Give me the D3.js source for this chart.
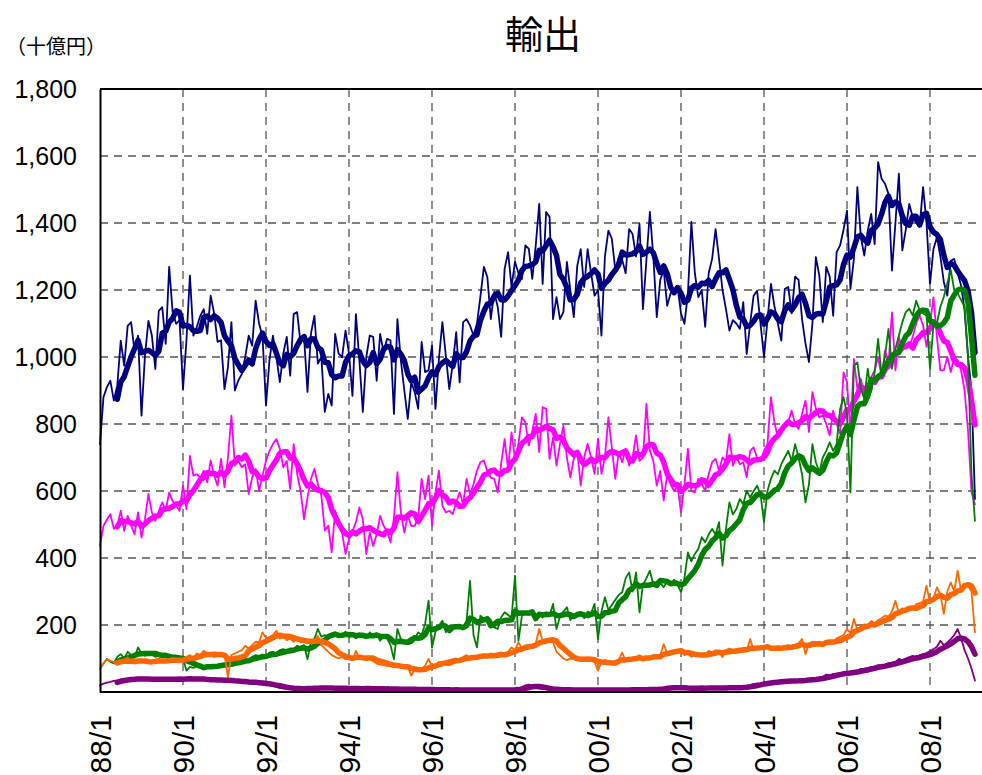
<!DOCTYPE html>
<html>
<head>
<meta charset="utf-8">
<script src="https://cdn.jsdelivr.net/npm/d3@7"></script>
<style>
  body { margin: 0; background: #fff; }
  .canvas svg { display: block; }
</style>
</head>
<body>
<div class="canvas"></div>
<script>
// monthly values, 88/1 .. 09/2 (十億円)
const xLabels = ['88/1', '90/1', '92/1', '94/1', '96/1', '98/1', '00/1', '02/1', '04/1', '06/1', '08/1'];
const yTicks = [200, 400, 600, 800, 1000, 1200, 1400, 1600, 1800];

const navy = [
    740, 880, 910, 929, 870, 915, 1049, 974, 1093, 1104, 1015, 1064,
    825, 1004, 1108, 1064, 964, 1138, 1149, 1039, 1269, 1134, 1099, 1110,
    904, 1050, 1243, 1064, 1090, 1123, 1143, 1069, 1183, 1130, 1045, 1050,
    904, 970, 1104, 900, 930, 949, 1000, 1064, 1034, 1168, 1100, 1060,
    855, 990, 1064, 1000, 925, 1010, 1060, 944, 1128, 1134, 1040, 1060,
    896, 1070, 1123, 980, 1000, 836, 890, 855, 1069, 1010, 1000, 1079,
    1010, 884, 1128, 990, 836, 1000, 1064, 1060, 929, 1069, 1015, 1054,
    1050, 830, 1113, 989, 900, 815, 925, 895, 845, 1045, 955, 960,
    1034, 845, 994, 1104, 1004, 904, 979, 1074, 924, 1104, 1113, 1094,
    1064, 1100, 1180, 1269, 1239, 1113, 1194, 1150, 1060, 1263, 1313, 1209,
    1284, 1250, 1233, 1333, 1323, 1233, 1333, 1457, 1218, 1433, 1418, 1113,
    1179, 1113, 1134, 1284, 1200, 1119, 1272, 1322, 1209, 1322, 1250, 1183,
    1200, 1064, 1300, 1377, 1353, 1260, 1298, 1290, 1250, 1382, 1367, 1300,
    1397, 1143, 1290, 1433, 1300, 1119, 1230, 1260, 1153, 1190, 1200, 1210,
    1130, 1099, 1190, 1403, 1250, 1179, 1200, 1090, 1250, 1293, 1382, 1293,
    1200, 1143, 1079, 1110, 1100, 1084, 1164, 1009, 1100, 1183, 1198, 1099,
    1000, 1110, 1218, 1153, 1100, 1049, 1203, 1209, 1130, 1240, 1230, 1113,
    1040, 985, 1100, 1298, 1243, 1104, 1269, 1240, 1123, 1313, 1333, 1380,
    1437, 1203, 1293, 1507, 1358, 1303, 1377, 1427, 1337, 1582, 1532, 1517,
    1487, 1258, 1400, 1547, 1318, 1380, 1457, 1418, 1400, 1390, 1507, 1400,
    1218, 1322, 1358, 1300, 1224, 1183, 1287, 1293, 1250, 1213, 1140, 1000,
    900, 576
];

const magenta = [
    437, 496, 515, 531, 487, 496, 541, 481, 526, 496, 471, 536,
    461, 516, 591, 536, 511, 540, 566, 541, 596, 570, 556, 541,
    616, 546, 705, 646, 650, 640, 661, 626, 691, 646, 616, 696,
    611, 700, 825, 676, 690, 671, 680, 591, 640, 666, 601, 646,
    690, 720, 740, 755, 726, 671, 690, 606, 740, 651, 600, 516,
    580, 636, 666, 620, 586, 482, 496, 417, 541, 500, 476, 412,
    457, 480, 507, 551, 516, 412, 476, 436, 470, 526, 496, 480,
    447, 520, 656, 536, 476, 526, 496, 496, 520, 636, 576, 646,
    496, 596, 661, 556, 536, 541, 531, 566, 596, 560, 636, 591,
    620, 661, 686, 691, 660, 640, 636, 596, 681, 755, 666, 775,
    696, 741, 820, 805, 736, 780, 830, 716, 850, 845, 696, 760,
    676, 740, 795, 700, 641, 696, 720, 616, 700, 741, 700, 651,
    756, 651, 700, 820, 730, 636, 716, 686, 726, 676, 700, 766,
    690, 700, 860, 720, 690, 616, 660, 571, 651, 620, 600, 616,
    536, 620, 726, 600, 596, 636, 621, 601, 650, 686, 696, 661,
    700, 690, 770, 676, 700, 680, 686, 641, 720, 730, 700, 690,
    720, 740, 880, 806, 760, 785, 800, 806, 840, 800, 785, 830,
    870, 776, 895, 846, 820, 826, 800, 766, 840, 800, 771, 954,
    925, 771, 994, 905, 935, 885, 920, 940, 960, 1000, 940, 1020,
    980, 1133, 960, 1060, 1020, 1030, 1030, 1060, 1100, 1124, 1094, 1030,
    1100, 1178, 1060, 960, 960, 1000, 955, 1000, 990, 959, 900, 780,
    596, 560
];

const green = [
    69, 85, 98, 90, 85, 105, 113, 100, 120, 110, 105, 133,
    115, 108, 118, 112, 105, 110, 103, 108, 100, 95, 105, 98,
    100, 64, 75, 72, 78, 75, 72, 80, 75, 78, 82, 85,
    84, 88, 80, 95, 92, 98, 100, 95, 105, 110, 108, 112,
    105, 118, 120, 115, 125, 128, 122, 130, 128, 138, 135, 140,
    98, 150, 158, 188, 165, 170, 160, 175, 178, 165, 170, 180,
    163, 170, 160, 175, 168, 160, 178, 165, 175, 153, 165, 160,
    140, 98, 188, 158, 150, 155, 163, 160, 178, 170, 203, 273,
    133, 180, 198, 213, 178, 198, 190, 193, 200, 195, 213, 332,
    170, 133, 228, 218, 225, 215, 193, 188, 223, 238, 230, 220,
    347, 153, 228, 235, 230, 243, 225, 230, 222, 238, 230, 263,
    188, 225, 240, 253, 215, 230, 225, 238, 220, 240, 235, 263,
    158, 240, 283, 245, 260, 275, 290, 298, 340, 357, 300, 357,
    238, 320, 340, 362, 320, 330, 325, 313, 330, 320, 335, 320,
    298, 340, 417, 390, 412, 427, 462, 447, 470, 487, 470, 507,
    377, 487, 566, 530, 546, 576, 560, 601, 580, 600, 616, 590,
    506, 601, 636, 661, 650, 680, 700, 720, 690, 740, 700, 650,
    566, 620, 740, 686, 656, 700, 720, 745, 720, 740, 845, 880,
    830, 596, 974, 984, 905, 875, 965, 895, 955, 1054, 945, 1004,
    1084, 965, 1024, 1064, 1104, 1134, 1144, 1124, 1168, 1140, 1130, 1124,
    965, 1094, 1100, 1150, 1180, 1220, 1260, 1200, 1190, 1170, 1150, 1000,
    650, 511
];

const orange = [
    69, 85, 98, 93, 90, 85, 88, 95, 103, 90, 85, 93,
    90, 95, 88, 88, 95, 100, 90, 95, 92, 100, 93, 95,
    98, 105, 110, 100, 115, 110, 123, 115, 110, 105, 108, 110,
    112, 44, 110, 115, 120, 125, 138, 130, 140, 150, 148, 178,
    160, 165, 170, 183, 160, 165, 155, 160, 150, 160, 148, 150,
    145, 155, 150, 168, 140, 130, 120, 110, 105, 100, 105, 98,
    100, 95, 123, 100, 98, 95, 100, 92, 85, 82, 80, 78,
    78, 76, 80, 72, 70, 75, 49, 68, 65, 70, 78, 99,
    75, 80, 90, 85, 92, 95, 98, 100, 95, 105, 110, 100,
    108, 105, 110, 112, 108, 110, 105, 115, 118, 112, 120, 133,
    125, 148, 130, 140, 135, 140, 145, 188, 150, 155, 150, 148,
    120, 110, 100, 95, 100, 98, 95, 100, 98, 100, 95, 90,
    64, 90, 95, 92, 88, 90, 95, 118, 92, 100, 95, 100,
    110, 98, 105, 102, 110, 105, 110, 143, 115, 120, 125, 118,
    120, 110, 115, 105, 110, 108, 115, 110, 123, 118, 125, 120,
    104, 125, 130, 125, 128, 130, 120, 123, 158, 125, 130, 135,
    128, 135, 130, 125, 135, 130, 138, 140, 135, 140, 145, 158,
    113, 145, 150, 148, 150, 145, 150, 153, 148, 160, 165, 170,
    188, 175, 218, 185, 195, 202, 200, 212, 205, 215, 220, 228,
    225, 240, 272, 235, 250, 245, 255, 250, 262, 265, 270, 317,
    265, 280, 312, 290, 233, 300, 327, 300, 362, 302, 315, 317,
    300, 178
];

const purple = [
    20, 25, 28, 30, 33, 35, 38, 40, 38, 40, 36, 40,
    38, 40, 37, 39, 36, 38, 40, 37, 38, 39, 37, 40,
    38, 40, 42, 38, 36, 38, 37, 35, 36, 37, 34, 36,
    33, 35, 32, 30, 31, 29, 30, 28, 27, 28, 25, 24,
    22, 20, 18, 15, 12, 11, 10, 10, 11, 10, 9, 10,
    12, 11, 13, 12, 12, 11, 13, 11, 10, 12, 11, 10,
    10, 11, 10, 9, 10, 11, 10, 9, 10, 10, 9, 8,
    9, 8, 8, 9, 8, 7, 8, 8, 7, 8, 7, 7,
    7, 6, 7, 6, 7, 6, 6, 7, 6, 6, 7, 6,
    6, 7, 6, 6, 6, 7, 6, 6, 6, 7, 6, 6,
    8, 10, 15, 20, 22, 18, 12, 10, 9, 8, 7, 8,
    7, 6, 6, 7, 6, 6, 7, 6, 6, 6, 7, 6,
    6, 6, 7, 6, 6, 6, 7, 6, 7, 6, 7, 6,
    7, 8, 7, 8, 8, 9, 10, 12, 16, 15, 12, 10,
    10, 12, 11, 12, 11, 12, 12, 11, 12, 12, 13, 12,
    12, 12, 13, 13, 14, 14, 15, 17, 20, 24, 25, 26,
    29, 28, 30, 31, 32, 33, 33, 32, 34, 35, 33, 36,
    38, 39, 40, 38, 42, 45, 52, 50, 54, 55, 56, 58,
    59, 58, 62, 64, 69, 70, 72, 74, 76, 80, 79, 82,
    86, 88, 90, 99, 95, 100, 104, 108, 102, 110, 113, 116,
    122, 128, 135, 153, 140, 148, 158, 170, 188, 160, 125, 100,
    70, 34
];

const series = [
    { name: 'navy', values: navy, colour: '#000080' },
    { name: 'magenta', values: magenta, colour: '#ff00ff' },
    { name: 'green', values: green, colour: '#008000' },
    { name: 'orange', values: orange, colour: '#ff6600' },
    { name: 'purple', values: purple, colour: '#800080' }
];

const dims = { width: 982, height: 775 };
const plot = { left: 100, top: 89, bottom: 692, right: 982 };

const svg = d3.select('.canvas')
    .append('svg')
    .attr('width', dims.width)
    .attr('height', dims.height)
;

// month index -> x, 2 years = 24 months per label
const x = d3.scaleLinear().domain([0, 240]).range([plot.left, 930]);
const y = d3.scaleLinear().domain([0, 1800]).range([plot.bottom, plot.top]);

// thick line: trailing 6-month average of the monthly values
const movingAvg = (vals, n) => vals.map((v, i) =>
    i < n - 1 ? null : d3.mean(vals.slice(i - n + 1, i + 1)));

// grid
const grid = svg.append('g').attr('stroke', '#555').attr('stroke-width', 1.3).attr('stroke-dasharray', '8,6');
grid.selectAll('.hgrid')
    .data(yTicks.filter(d => d < 1800))
    .enter().append('line')
        .attr('x1', plot.left).attr('x2', plot.right)
        .attr('y1', d => y(d)).attr('y2', d => y(d));
grid.selectAll('.vgrid')
    .data(xLabels.slice(1).map((d, i) => (i + 1) * 24))
    .enter().append('line')
        .attr('x1', d => x(d)).attr('x2', d => x(d))
        .attr('y1', plot.top).attr('y2', plot.bottom);

// lines
const line = d3.line()
    .defined(d => d != null)
    .x((d, i) => x(i))
    .y(d => y(d))
;

const lines = svg.append('g').attr('fill', 'none').attr('stroke-linejoin', 'round').attr('stroke-linecap', 'round');
series.forEach(s => {
    lines.append('path')
        .attr('d', line(s.values))
        .attr('stroke', s.colour)
        .attr('stroke-width', 1.8);
    lines.append('path')
        .attr('d', line(movingAvg(s.values, 6)))
        .attr('stroke', s.colour)
        .attr('stroke-width', 5.5);
});

// frame
svg.append('line')
    .attr('x1', plot.left).attr('x2', plot.right)
    .attr('y1', plot.top).attr('y2', plot.top)
    .attr('stroke', '#000').attr('stroke-width', 2);

// axes
const yAxis = svg.append('g')
    .attr('transform', `translate(${plot.left},0)`)
    .call(d3.axisLeft(y).tickValues(yTicks).tickSize(0).tickPadding(23).tickFormat(d3.format(',')));
yAxis.select('.domain').attr('stroke', '#000').attr('stroke-width', 2);
yAxis.selectAll('text')
    .attr('font-family', '"Liberation Sans", Arial, sans-serif')
    .attr('font-size', 25)
    .attr('fill', '#000');

const xAxis = svg.append('g')
    .attr('transform', `translate(0,${plot.bottom})`)
    .call(d3.axisBottom(x).tickValues(xLabels.map((d, i) => i * 24)).tickSize(0).tickFormat((d, i) => xLabels[i]));
xAxis.select('.domain').attr('stroke', '#000').attr('stroke-width', 2).attr('d', `M${plot.left},0H${plot.right}`);
xAxis.selectAll('text')
    .attr('font-family', '"Liberation Sans", Arial, sans-serif')
    .attr('font-size', 30)
    .attr('fill', '#000')
    .attr('transform', 'rotate(-90)')
    .attr('text-anchor', 'end')
    .attr('x', -23)
    .attr('y', 0)
    .attr('dy', '0.35em');

// title + unit
svg.append('text')
    .attr('x', 543).attr('y', 48)
    .attr('text-anchor', 'middle')
    .attr('font-family', '"Noto Sans CJK JP", sans-serif')
    .attr('font-size', 38)
    .text('輸出');

svg.append('text')
    .attr('x', 6).attr('y', 54)
    .attr('font-family', '"Noto Sans CJK JP", sans-serif')
    .attr('font-size', 20)
    .text('（十億円）');
</script>
</body>
</html>
